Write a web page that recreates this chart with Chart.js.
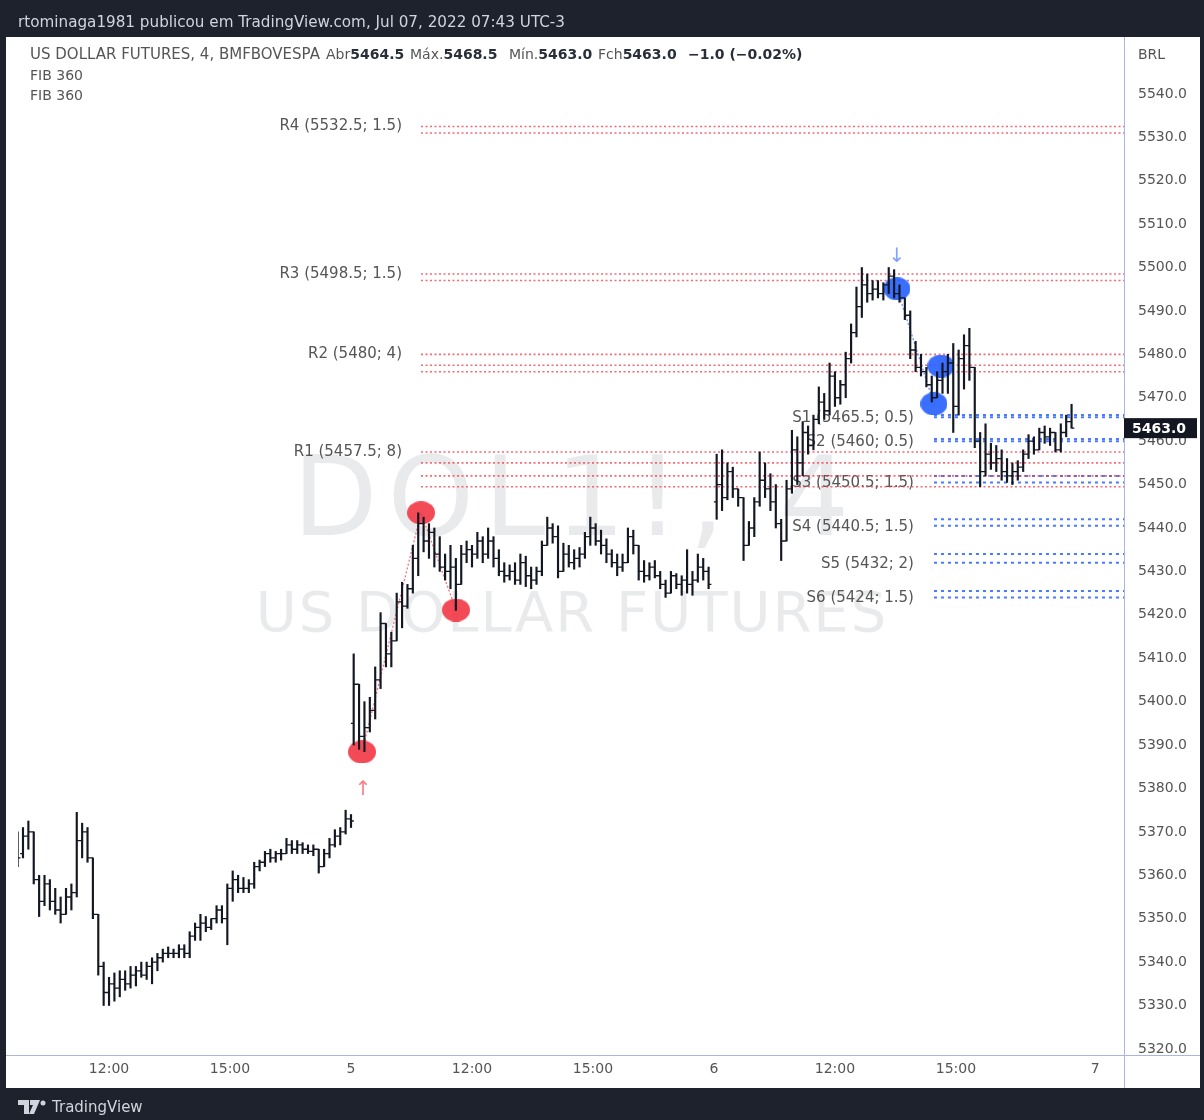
<!DOCTYPE html>
<html>
<head>
<meta charset="utf-8">
<script src="https://cdn.jsdelivr.net/npm/chart.js@4.4.1/dist/chart.umd.min.js"></script>
<style>
html,body{margin:0;padding:0;width:1204px;height:1120px;overflow:hidden;background:#1e222d;font-family:"DejaVu Sans",sans-serif;}
#panel{position:absolute;left:6px;top:37px;width:1194px;height:1051px;background:#ffffff;}
#c{position:absolute;left:0;top:0;width:1204px;height:1120px;}
#hdr{position:absolute;left:18px;top:12px;color:#d1d4dc;font-size:15.2px;line-height:20px;white-space:nowrap;}
#legend{position:absolute;left:0;top:44px;width:900px;height:62px;color:#555;font-size:14px;line-height:20.5px;white-space:nowrap;}
#legend span{position:absolute;top:0;}
#legend b{color:#2a2e39;}
#brl{position:absolute;left:1138px;top:45px;color:#555;font-size:14px;line-height:18px;}
#vline{position:absolute;left:1124px;top:1055px;width:1px;height:33px;background:#a9b7dd;}
#hline{position:absolute;left:6px;top:1055px;width:1194px;height:1px;background:#a9b7dd;}
#foot{position:absolute;left:18px;top:1097px;height:20px;color:#d1d4dc;font-size:15px;line-height:20px;display:flex;align-items:center;}
#foot svg{margin-right:6px;}
</style>
</head>
<body>
<div id="panel"></div>
<div id="hline"></div>
<canvas id="c" width="1204" height="1120"></canvas>
<div id="hdr">rtominaga1981 publicou em TradingView.com, Jul 07, 2022 07:43 UTC-3</div>
<div id="legend">
<span style="left:30px;font-size:15px">US DOLLAR FUTURES, 4, BMFBOVESPA</span>
<span style="left:326px">Abr<b>5464.5</b></span>
<span style="left:410px">Máx.<b>5468.5</b></span>
<span style="left:509px">Mín.<b>5463.0</b></span>
<span style="left:598px">Fch<b>5463.0</b></span>
<span style="left:688px"><b>−1.0 (−0.02%)</b></span>
<span style="left:30px;top:20.5px">FIB 360</span>
<span style="left:30px;top:41px">FIB 360</span>
</div>
<div id="brl">BRL</div>
<div id="vline"></div>
<div id="foot"><svg width="28" height="14" viewBox="0 0 28 14"><path d="M0 0h11v14H6V5H0z M12 0h10l-6 14h-5l4-9h-3z" fill="#d1d4dc"/><circle cx="25" cy="3" r="2.5" fill="#d1d4dc"/></svg>TradingView</div>
<script>
// ---------- DATA ----------
// sessions (days 4, 5, 6 of July 2022), 8-minute OHLC bars
const sessionHours = 9;          // 09:00 - 18:00
const barMinutes = 8;
const sessionFirstBar = [5, 0, 0];

const d4Open  = [5368,5365,5369,5370,5359,5354,5358,5354,5352,5351,5355,5356,5368,5370,5364,5351,5339,5333,5335,5334,5336,5335,5337,5338,5337,5339,5340,5341,5342,5342,5342,5343,5342,5346,5348,5349,5348,5350,5352,5350,5357,5359,5357,5357,5358,5362,5363,5365,5364,5365,5365,5367,5366,5367,5366,5365.5,5366,5362,5365,5367,5369,5370,5373];
const d4High  = [5370,5371,5372.5,5370,5360,5360,5359,5357,5355,5357,5358,5374.5,5372,5371,5364,5351,5340,5336.5,5337.5,5338,5338,5339,5339,5340,5340,5341,5342,5343,5343.5,5343,5344,5344,5347,5349,5351,5350.5,5350,5353,5353,5358,5361,5360,5359.5,5359,5363,5363.5,5365.5,5366,5365.5,5366,5368.5,5368,5368,5367.5,5367,5367,5366,5366,5368.5,5370.5,5371,5375,5374];
const d4Low   = [5362,5364,5366,5358,5350.5,5353,5352,5351,5349,5351,5352,5355,5364,5363,5350,5337,5330,5330,5331,5332,5333.5,5334,5334.5,5336.5,5336,5335,5338,5340,5341,5341,5341,5341,5341,5345,5345,5347,5347.5,5349,5349,5344,5354,5356,5356,5356,5357,5361,5362,5363,5363,5363.5,5365,5365,5365,5365,5365,5364.5,5360.5,5362,5364,5366.5,5367,5369.5,5371];
const d4Close = [5364,5369,5370,5359,5354,5358,5354,5352,5351,5355,5356,5368,5370,5364,5351,5339,5333,5335,5334,5336,5335,5337,5338,5337,5339,5340,5341,5342,5342,5342,5343,5342,5346,5348,5349,5348,5350,5352,5350,5357,5359,5357,5357,5358,5362,5363,5365,5364,5365,5365,5367,5366,5367,5366,5365.5,5366,5362,5365,5367,5369,5370,5373,5372.5];

const d5Open  = [5395,5404,5392,5394,5398,5405,5418,5411,5414,5423,5422,5426,5433,5441,5437,5439,5434,5431,5430,5431,5427,5434,5435,5434,5437,5434,5437,5433,5430,5429,5430,5428,5432,5429,5428,5430,5436,5440,5438,5430,5434,5432,5433,5434,5438,5440,5437,5436,5434,5432,5431,5432,5438,5436,5430,5429,5431,5429,5427,5425,5429,5427,5428,5427,5428,5431,5430];
const d5High  = [5411,5404,5400,5401,5408,5420.5,5418,5416,5425,5427.5,5427,5436,5443.5,5442.5,5441,5440,5438,5434,5436,5433,5436,5437,5436,5439,5438,5440,5438,5435,5432,5431.5,5432,5434,5433.5,5431,5431,5437,5442.5,5441,5440.5,5436.5,5436,5435,5435.5,5439,5442.5,5441,5439.5,5437.5,5435,5434,5434,5440,5439.5,5436,5432.5,5432,5432.5,5430,5428,5430,5429.5,5429,5435,5430,5434,5433,5431];
const d5Low   = [5390,5389,5388.5,5393,5396,5403,5408,5408,5414,5417,5421.5,5425,5429,5434.5,5433,5431,5430,5428,5426,5421,5427,5432,5431,5433,5432,5433,5431,5429,5427.5,5428,5427,5427,5426.5,5426,5427,5429,5436,5436.5,5428.5,5430,5431,5430.5,5431,5433,5436,5436,5434,5432,5431,5429,5430,5432,5434,5428,5427.5,5428,5428.5,5426,5424,5425,5426,5424.5,5425,5424.5,5427.5,5428,5426];
const d5Close = [5404,5392,5394,5398,5405,5418,5411,5414,5423,5422,5426,5433,5441,5437,5439,5434,5431,5430,5431,5427,5434,5435,5434,5437,5434,5437,5433,5430,5429,5430,5428,5432,5429,5428,5430,5436,5440,5438,5430,5434,5432,5433,5434,5438,5440,5437,5436,5434,5432,5431,5432,5438,5436,5430,5429,5431,5429,5427,5425,5429,5427,5428,5427,5428,5431,5430,5427];

const d6Open  = [5446,5450,5447,5453,5449,5447,5436,5440,5446,5451,5449,5446,5441,5437,5449,5458,5455,5462,5459,5465,5469,5467,5475,5470,5473,5479,5485,5491,5496,5494,5495,5494,5496,5498,5494,5493,5489,5481,5477,5476,5473,5470,5474,5476,5478,5468,5479,5482,5477,5460,5453,5457,5455,5456,5453,5452,5453,5454,5457,5460,5458,5462,5461,5462,5458,5462,5464.5];
const d6High  = [5457,5458,5455,5454,5449,5447,5441.5,5447,5457.5,5455,5452.5,5450,5442,5451,5462.5,5461,5464.5,5463.5,5466,5472.5,5471,5478,5476,5474,5480.5,5487,5495.5,5500,5498.5,5497,5497,5496.5,5500,5499.5,5496,5493,5490,5483,5480,5477,5475,5476,5478,5480,5482.5,5481,5484.5,5486,5477,5462,5464,5459.5,5459,5458,5456,5455,5455.5,5458,5461.5,5461,5463,5463.5,5463,5462,5464,5466,5468.5];
const d6Low   = [5442,5444,5446.5,5447,5445,5432.5,5436,5438,5445,5447,5444,5440,5432.5,5437,5448,5450,5452,5457,5458,5464,5465,5466,5468,5468.5,5470,5478,5484,5488.5,5492,5492.5,5493,5492.5,5494,5493,5492,5488,5479,5476,5475,5472.5,5469,5470,5471,5471,5462,5466,5472,5474,5458.5,5449.5,5452,5453.5,5453,5451,5450.5,5450,5451,5453,5456,5457,5458,5459.5,5459,5457.5,5457.5,5461,5463];
const d6Close = [5450,5447,5453,5449,5447,5436,5440,5446,5451,5449,5446,5441,5437,5449,5458,5455,5462,5459,5465,5469,5467,5475,5470,5473,5479,5485,5491,5496,5494,5495,5494,5496,5498,5494,5493,5489,5481,5477,5476,5473,5470,5474,5476,5478,5468,5479,5482,5477,5460,5453,5457,5455,5456,5453,5452,5453,5454,5457,5460,5458,5462,5461,5462,5458,5462,5464.5,5463];

// FIB 360 levels: label, level, zone
const rNames  = ['R4','R3','R2','R1'];
const rLevels = [5532.5, 5498.5, 5480, 5457.5];
const rZones  = [1.5, 1.5, 4, 8];
const rExtraLines = [5477.5, 5455, 5452];
const sNames  = ['S1','S2','S3','S4','S5','S6'];
const sLevels = [5465.5, 5460, 5450.5, 5440.5, 5432, 5424];
const sZones  = [0.5, 0.5, 1.5, 1.5, 2, 1.5];

// pivot markers (time in session-hours, price)
const redMarkerTimes  = [9.273, 10.736, 11.604];
const redMarkerPrices = [5388.4, 5443.5, 5421.1];
const blueMarkerTimes  = [22.538, 23.455, 23.629];
const blueMarkerPrices = [5495.1, 5468.6, 5477.3];

// axes
const xTickValues = [3, 6, 9, 12, 15, 18, 21, 24, 27.45];
const xTickLabels = ['12:00','15:00','5','12:00','15:00','6','12:00','15:00','7'];
const yTickValues = [5320,5330,5340,5350,5360,5370,5380,5390,5400,5410,5420,5430,5440,5450,5460,5470,5480,5490,5500,5510,5520,5530,5540];
const lastPrice = 5463.0;
const watermarkTitle = 'DOL1!, 4';
const watermarkSub = 'US DOLLAR FUTURES';

// ---------- BUILD ----------
const xMin = 0.743, xMax = 28.167, yMin = 5318.6, yMax = 5553.1;
const sessions = [[d4Open,d4High,d4Low,d4Close],[d5Open,d5High,d5Low,d5Close],[d6Open,d6High,d6Low,d6Close]];
const bars = [];
sessions.forEach((s, d) => {
  for (let i = 0; i < s[0].length; i++) {
    const u = d * sessionHours + ((sessionFirstBar[d] + i) * barMinutes + barMinutes / 2) / 60;
    bars.push({x: u, o: s[0][i], h: s[1][i], l: s[2][i], c: s[3][i]});
  }
});

function ellipse(w, h, color) {
  const cv = document.createElement('canvas');
  cv.width = w; cv.height = h;
  const g = cv.getContext('2d');
  g.fillStyle = color;
  g.beginPath(); g.ellipse(w/2, h/2, w/2, h/2, 0, 0, Math.PI*2); g.fill();
  return cv;
}
const redDot = ellipse(28, 23, 'rgba(242,54,69,0.9)');
const blueDot = ellipse(27, 23, 'rgba(41,98,255,0.92)');

const RED_LINE = 'rgba(242,54,69,0.75)';
const BLUE_LINE = 'rgba(41,98,255,0.85)';
const redAnchor = redMarkerTimes[1];
const blueAnchor = blueMarkerTimes[1];

const zoneSets = [];
const redLineLevels = [];
rLevels.forEach((v, i) => { redLineLevels.push(v, v - rZones[i]); });
redLineLevels.push(...rExtraLines);
redLineLevels.forEach(v => zoneSets.push({
  type: 'line', data: [{x: redAnchor, y: v}, {x: xMax, y: v}],
  borderColor: RED_LINE, borderWidth: 1.6, borderDash: [2, 2.5], pointRadius: 0, order: 3
}));
const blueLineLevels = [];
sLevels.forEach((v, i) => { blueLineLevels.push(v, v + sZones[i]); });
blueLineLevels.forEach(v => zoneSets.push({
  type: 'line', data: [{x: blueAnchor, y: v}, {x: xMax, y: v}],
  borderColor: BLUE_LINE, borderWidth: 2, borderDash: [3, 4], pointRadius: 0, order: 3
}));

const markerSets = [
  {type: 'line', data: redMarkerTimes.map((t, i) => ({x: t, y: redMarkerPrices[i]})),
   borderColor: 'rgba(242,54,69,0.7)', borderWidth: 1.3, borderDash: [2, 2],
   pointStyle: redDot, pointRadius: 14, order: 2},
  {type: 'line', data: blueMarkerTimes.map((t, i) => ({x: t, y: blueMarkerPrices[i]})),
   borderColor: 'rgba(41,98,255,0.7)', borderWidth: 1.3, borderDash: [2, 2],
   pointStyle: blueDot, pointRadius: 14, order: 2}
];

const FONT = '"DejaVu Sans", sans-serif';
const overlay = {
  id: 'overlay',
  beforeDatasetsDraw(chart) {
    const {ctx, chartArea: a, scales: {x, y}} = chart;
    ctx.save();
    ctx.beginPath(); ctx.rect(a.left, a.top, a.right - a.left, a.bottom - a.top); ctx.clip();
    // watermark
    const cx = (a.left + a.right) / 2, cy = (a.top + a.bottom) / 2;
    ctx.fillStyle = 'rgba(120,123,134,0.16)';
    ctx.textAlign = 'center'; ctx.textBaseline = 'middle';
    ctx.font = '110px ' + FONT;
    ctx.letterSpacing = '10px';
    ctx.fillText(watermarkTitle, cx + 5, cy - 40);
    ctx.font = '56px ' + FONT;
    ctx.letterSpacing = '2px';
    ctx.fillText(watermarkSub, cx + 1, cy + 70);
    ctx.letterSpacing = '0px';
    // level labels
    ctx.fillStyle = '#555';
    ctx.font = '15px ' + FONT;
    ctx.textAlign = 'right';
    const rx = x.getPixelForValue(redAnchor) - 19;
    rLevels.forEach((v, i) => ctx.fillText(`${rNames[i]} (${v}; ${rZones[i]})`, rx, y.getPixelForValue(v)));
    const sx = x.getPixelForValue(blueAnchor) - 20;
    sLevels.forEach((v, i) => ctx.fillText(`${sNames[i]} (${v}; ${sZones[i]})`, sx, y.getPixelForValue(v) + 1));
    ctx.restore();
  },
  afterDatasetsDraw(chart) {
    const {ctx, chartArea: a, scales: {y}} = chart;
    const meta = chart.getDatasetMeta(0);
    ctx.save();
    ctx.beginPath(); ctx.rect(a.left, a.top, a.right - a.left, a.bottom - a.top); ctx.clip();
    ctx.strokeStyle = '#131722'; ctx.lineWidth = 1.3;
    ctx.beginPath();
    meta.data.forEach((el, i) => {
      const b = bars[i];
      const yo = y.getPixelForValue(b.o), yc = y.getPixelForValue(b.c);
      ctx.moveTo(el.x - 2.8, yo); ctx.lineTo(el.x, yo);
      ctx.moveTo(el.x, yc); ctx.lineTo(el.x + 2.8, yc);
    });
    ctx.stroke();
    // arrows
    const rm = chart.getDatasetMeta(1).data[0];
    const bm = chart.getDatasetMeta(2).data[0];
    ctx.font = '20px ' + FONT; ctx.textAlign = 'center'; ctx.textBaseline = 'middle';
    ctx.fillStyle = 'rgba(242,54,69,0.65)';
    ctx.fillText('↑', rm.x + 1, rm.y + 38);
    ctx.fillStyle = 'rgba(41,98,255,0.6)';
    ctx.fillText('↓', bm.x, bm.y - 32);
    ctx.restore();
  },
  afterDraw(chart) {
    const {ctx, chartArea: a, scales: {y}} = chart;
    const py = y.getPixelForValue(lastPrice);
    ctx.save();
    ctx.fillStyle = '#131722';
    ctx.fillRect(a.right, py - 10, 73, 20);
    ctx.fillStyle = '#ffffff';
    ctx.font = 'bold 14px ' + FONT;
    ctx.textAlign = 'left'; ctx.textBaseline = 'middle';
    ctx.fillText(lastPrice.toFixed(1), a.right + 8, py + 1);
    ctx.restore();
  }
};

const AXIS = '#a9b7dd';
new Chart(document.getElementById('c').getContext('2d'), {
  type: 'bar',
  data: {
    datasets: [
      {type: 'bar', data: bars.map(b => ({x: b.x, y: [b.l, b.h]})), backgroundColor: '#131722',
       barThickness: 1.5, borderWidth: 0, order: 0},
      ...markerSets,
      ...zoneSets
    ]
  },
  options: {
    responsive: false, animation: false, events: [],
    layout: {padding: {left: 18, top: 37, right: 4, bottom: 32}},
    plugins: {legend: {display: false}, tooltip: {enabled: false}},
    scales: {
      x: {
        type: 'linear', min: xMin, max: xMax, offset: false,
        grid: {display: false, drawTicks: false},
        border: {display: true, color: AXIS, width: 1},
        afterBuildTicks: s => { s.ticks = xTickValues.map(v => ({value: v})); },
        afterFit: s => { s.height = 33; },
        ticks: {autoSkip: false, maxRotation: 0, padding: 6, color: '#555',
                font: {family: 'DejaVu Sans', size: 14},
                callback: (v, i) => xTickLabels[i]}
      },
      y: {
        type: 'linear', position: 'right', min: yMin, max: yMax,
        grid: {display: false, drawTicks: false},
        border: {display: true, color: AXIS, width: 1},
        afterBuildTicks: s => { s.ticks = yTickValues.map(v => ({value: v})); },
        afterFit: s => { s.width = 76; },
        ticks: {autoSkip: false, padding: 14, color: '#555',
                font: {family: 'DejaVu Sans', size: 14},
                callback: v => Number(v).toFixed(1)}
      }
    }
  },
  plugins: [overlay]
});
</script>
</body>
</html>
